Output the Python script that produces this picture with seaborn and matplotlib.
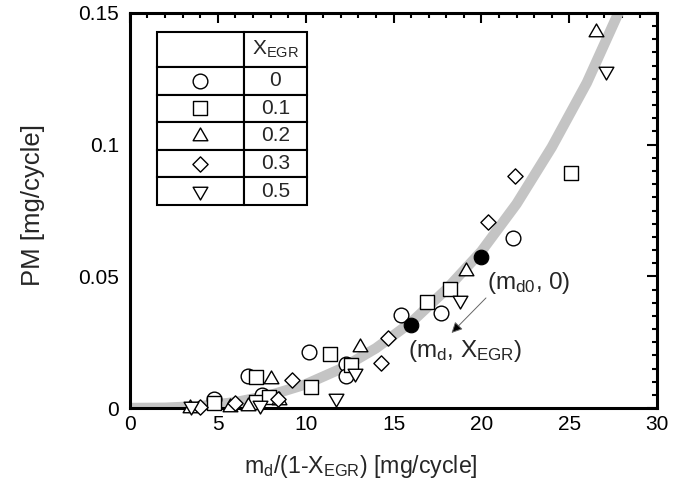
import numpy as np
import pandas as pd
import matplotlib
matplotlib.use("Agg")
import matplotlib.pyplot as plt
import seaborn as sns
from matplotlib.path import Path
from matplotlib.ticker import MultipleLocator, FuncFormatter

# ---------------- data ----------------
x_egr_0 = [4.8, 6.7, 7.5, 10.2, 12.3, 12.3, 15.4, 17.7, 21.8]
pm_egr_0 = [0.0035, 0.0122, 0.0048, 0.0214, 0.0168, 0.0121, 0.0352, 0.0362, 0.0647]

x_egr_01 = [4.8, 7.2, 7.2, 7.9, 10.3, 11.4, 12.6, 16.9, 18.2, 25.1]
pm_egr_01 = [0.0020, 0.0118, 0.0024, 0.0042, 0.0080, 0.0205, 0.0163, 0.0402, 0.0453, 0.0893]

x_egr_02 = [3.4, 5.7, 6.7, 8.0, 8.5, 13.1, 19.1, 26.5]
pm_egr_02 = [0.0000, 0.0002, 0.0006, 0.0112, 0.0030, 0.0233, 0.0522, 0.1428]

x_egr_03 = [4.0, 6.0, 8.4, 9.2, 14.3, 14.7, 20.4, 21.9]
pm_egr_03 = [0.0003, 0.0018, 0.0036, 0.0107, 0.0172, 0.0264, 0.0707, 0.0882]

x_egr_05 = [3.5, 7.4, 11.7, 12.8, 18.8, 27.1]
pm_egr_05 = [0.0007, 0.0013, 0.0037, 0.0132, 0.0409, 0.1278]

x_ref = [16.0, 20.0]
pm_ref = [0.0316, 0.0572]

curve_x = [0, 2, 4, 6, 8, 10, 12, 14, 16, 18, 20, 22, 24, 26, 28]
curve_pm = [0.0, 0.0001, 0.0007, 0.0022, 0.0049, 0.0090, 0.0149, 0.0227,
            0.0325, 0.0450, 0.0595, 0.0775, 0.0990, 0.1235, 0.1530]

egr_labels = ["0", "0.1", "0.2", "0.3", "0.5"]

# ---------------- style ----------------
sns.set_style("white")
plt.rcParams["font.family"] = ["Liberation Sans", "DejaVu Sans"]
plt.rcParams["mathtext.fontset"] = "custom"
plt.rcParams["mathtext.rm"] = "Liberation Sans"
plt.rcParams["mathtext.it"] = "Liberation Sans:italic"
plt.rcParams["mathtext.bf"] = "Liberation Sans:bold"

tri_up = Path([(-1.0, -0.577), (1.0, -0.577), (0.0, 1.155), (0.0, 0.0)],
              [Path.MOVETO, Path.LINETO, Path.LINETO, Path.CLOSEPOLY])
tri_dn = Path([(-1.0, 0.577), (1.0, 0.577), (0.0, -1.155), (0.0, 0.0)],
              [Path.MOVETO, Path.LINETO, Path.LINETO, Path.CLOSEPOLY])

series = [
    (x_egr_0, pm_egr_0, "o", 112),
    (x_egr_01, pm_egr_01, "s", 108),
    (x_egr_02, pm_egr_02, tri_up, 150),
    (x_egr_03, pm_egr_03, "D", 60),
    (x_egr_05, pm_egr_05, tri_dn, 150),
]

fig = plt.figure(figsize=(6.91, 4.90), dpi=100)
ax = fig.add_axes([0.188, 0.1673, 0.763, 0.8062])

# fitted curve
curve_df = pd.DataFrame({"x": curve_x, "pm": curve_pm})
sns.lineplot(data=curve_df, x="x", y="pm", ax=ax, color="#c4c4c4",
             linewidth=7.5, zorder=1, solid_capstyle="butt")

for xs, ys, mk, s in series:
    df = pd.DataFrame({"x": xs, "pm": ys})
    sns.scatterplot(data=df, x="x", y="pm", ax=ax, marker=mk, s=s,
                    facecolor="white", edgecolor="black", linewidth=1.0,
                    zorder=3, clip_on=False)

ref_df = pd.DataFrame({"x": x_ref, "pm": pm_ref})
sns.scatterplot(data=ref_df, x="x", y="pm", ax=ax, marker="o", s=110,
                color="black", edgecolor="black", zorder=4)

ax.set_xlim(0, 30)
ax.set_ylim(0, 0.15)
ax.xaxis.set_major_locator(MultipleLocator(5))
ax.xaxis.set_minor_locator(MultipleLocator(1))
ax.yaxis.set_major_locator(MultipleLocator(0.05))
ax.yaxis.set_minor_locator(MultipleLocator(0.005))
ax.yaxis.set_major_formatter(FuncFormatter(lambda v, p: f"{v:g}"))
ax.tick_params(which="both", direction="in", top=True, right=True,
               labelsize=15, width=1.5, colors="black")
ax.tick_params(which="major", length=7)
ax.tick_params(which="minor", length=3.8)
ax.tick_params(axis="x", pad=5)
ax.tick_params(axis="y", pad=8)
for sp in ax.spines.values():
    sp.set_linewidth(2.2)
    sp.set_color("black")

ax.set_xlabel(r"m$_\mathrm{d}$/(1-X$_\mathrm{EGR}$) [mg/cycle]", fontsize=16.7,
              va="center")
ax.set_ylabel("PM [mg/cycle]", fontsize=18.5, va="center")
ax.xaxis.set_label_coords(0.438, -0.149)
ax.yaxis.set_label_coords(-0.183, 0.514)

# annotations
ax.text(20.3, 0.0475, r"(m$_\mathrm{d0}$, 0)", fontsize=17.5, va="center", ha="left")
ax.text(15.8, 0.0215, r"(m$_\mathrm{d}$, X$_\mathrm{EGR}$)", fontsize=17.5, va="center", ha="left")
ax.annotate("", xy=(18.3, 0.0285), xytext=(20.26, 0.0418),
            arrowprops=dict(arrowstyle="-|>", lw=0.7, ec="#666666", fc="black",
                            mutation_scale=16, shrinkA=0, shrinkB=0))

# legend table
tx0, tw = 0.0513, 0.2844
ty0, th = 0.514, 0.438
col_w = [0.58, 0.42]
cell_text = [["", r"X$_\mathrm{EGR}$"]] + [["", lab] for lab in egr_labels]
tbl = ax.table(cellText=cell_text, colWidths=col_w, cellLoc="center",
               bbox=[tx0, ty0, tw, th], zorder=5)
tbl.auto_set_font_size(False)
tbl.set_fontsize(15)
hdr_h, row_h = 0.0887, 0.0699
for (r, c), cell in tbl.get_celld().items():
    cell.set_linewidth(1.5)
    cell.set_edgecolor("black")
    cell.set_facecolor("white")
    cell.set_height(hdr_h if r == 0 else row_h)

mx = tx0 + col_w[0] * tw / 2
ytop = ty0 + th
for i, (xs, ys, mk, s) in enumerate(series):
    yc = ytop - hdr_h - row_h * (i + 0.5)
    ax.scatter([mx], [yc], transform=ax.transAxes, marker=mk, s=s,
               facecolor="white", edgecolor="black", linewidth=1.0,
               zorder=6, clip_on=False)

fig.savefig("out.png", dpi=100)
